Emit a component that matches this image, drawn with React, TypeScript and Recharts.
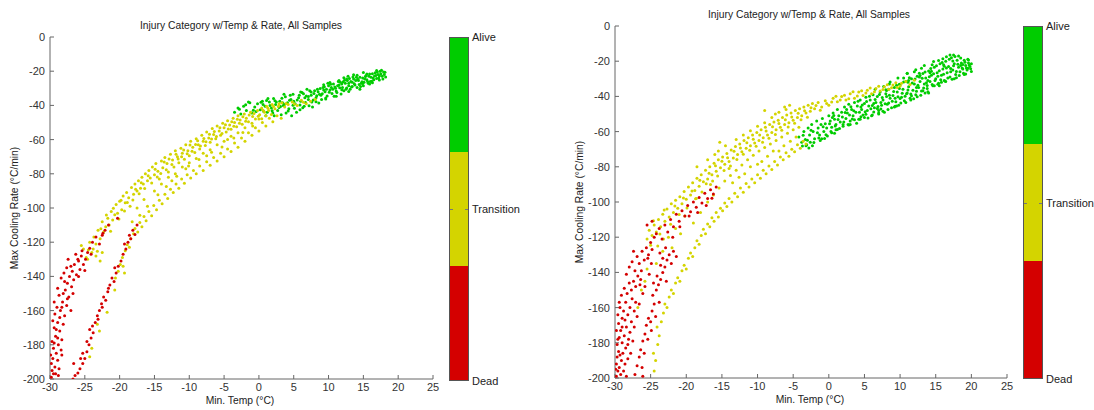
import React from 'react';
import { ScatterChart, Scatter, XAxis, YAxis } from 'recharts';

// Min. temp (°C) / max cooling rate (°C/min) pairs per injury category

const leftAlive: [number, number][] = [
  [-3.5,-44],[-3,-41.5],[-2.6,-45],[-2.2,-40.5],[-1.8,-43],[-1.3,-38.5],[-1,-44.5],[-0.6,-41],[-0.2,-39],[0.2,-42.5],
  [0.5,-37.5],[0.9,-40.5],[1.2,-44],[1.5,-38],[1.8,-41.5],[2.1,-36],[2.4,-39.5],[2.7,-43],[3,-37.5],[3.2,-45.5],
  [3.5,-40],[3.8,-35],[4.1,-38.5],[4.3,-42],[4.6,-36.5],[4.9,-33.5],[5.2,-39],[5.4,-44],[5.7,-35.5],[6,-37.5],
  [6.2,-32.5],[6.5,-40.5],[6.8,-34.5],[7.1,-36.5],[7.3,-31.5],[7.6,-38],[7.9,-33],[8.2,-35.5],[8.4,-30.5],[8.7,-33.5],
  [9,-36.5],[9.2,-29.5],[9.5,-32],[9.8,-34.5],[10,-28.5],[10.2,-31],[10.5,-33],[10.7,-27.5],[11,-30],[11.2,-32.5],
  [11.5,-28],[11.7,-26.5],[12,-29.5],[12.2,-31.5],[12.4,-27],[12.7,-25.5],[12.9,-28.5],[13.1,-30.5],[13.4,-26.5],[13.6,-24.5],
  [13.8,-28],[14.1,-29.5],[14.3,-25.5],[14.5,-23.5],[14.7,-27],[15,-28.5],[15.2,-24.5],[15.4,-22.5],[15.6,-26],[15.9,-27.5],
  [16.1,-23.5],[16.3,-21.5],[16.5,-25],[16.8,-22.5],[17,-20.5],[17.2,-24],[17.5,-21.5],[17.7,-23],[17.9,-20.5],[18,-22],
  [8.5,-32],[9.3,-31],[10.4,-29.5],[11.3,-28.5],[11.9,-27.5],[12.6,-29.8],[13.2,-26],[13.9,-25.5],[14.4,-27.8],[14.9,-24],
  [15.5,-25],[15.8,-23],[16.4,-24],[16.6,-22.8],[17.1,-22],[17.4,-20],[16,-26],[15.1,-26.5],[14,-23.5],[13,-24.3],
  [12.3,-25.3],[11.4,-26],[10.6,-30.5],[9.7,-30.5],[8.9,-34],[8,-31.5],[7.5,-34],[6.6,-35.5],[5.8,-34],[5,-37.5],
  [4.4,-37],[3.4,-38.5],[2.5,-38],[1.6,-40],[0.6,-39.5],[2,-44.5],[3.9,-44.5],[5.9,-42.5],[7.7,-41],[1,-46],
  [4.7,-46],[-0.4,-43.5],[6.9,-30.5],[9.9,-27],[12.8,-23],[3.6,-33.5],[1.3,-36],[-1.5,-38],
  [-2.8,-42.3],[-1.9,-39.6],[-0.8,-42.8],[0.3,-38.2],[0.7,-43.6],[1.1,-37.1],[1.9,-43.1],[2.3,-37.3],[2.9,-41.2],[3.3,-35.8],
  [3.7,-39.4],[4.2,-43.3],[4.5,-34.1],[5.1,-41.6],[5.5,-36.8],[5.9,-39.8],[6.4,-33.2],[6.7,-38.3],[7.2,-40.2],[7.5,-32.1],
  [7.8,-36.9],[8.3,-34.3],[8.6,-38.6],[9.1,-33.2],[9.4,-29.1],[9.6,-36.2],[10.1,-32.3],[10.3,-27.6],[10.8,-34.6],[10.9,-29.3],
  [11.1,-31.6],[11.6,-29.7],[11.8,-33.4],[12.1,-26.1],[12.5,-30.6],[12.9,-27.1],[13.3,-29.2],[13.5,-23.4],[13.7,-27.3],[14.2,-24.7],
  [14.6,-29],[14.8,-26.1],[15.3,-23.1],[15.7,-27.1],[15.9,-21.6],[16.2,-25.9],[16.7,-20.9],[16.9,-24.3],[17.3,-22.6],[17.6,-19.4],
  [17.8,-24.6],[18.1,-20.6],[18.2,-23.4],[16.9,-19.6],[15.5,-21.6],[14.1,-22.3],[12.6,-24.5],[11.5,-25.4],[10.2,-26.6],[11.9,-30.9],
  [13.4,-28.9],[14.9,-27.2],[16.3,-26.7],[17.3,-25.2],[9.3,-27.9],[8.8,-30.1],[7.1,-34.8],[6,-32.2],[4.9,-39.9],[3.1,-40.6],
  [12.2,-23.8],[13.6,-22.1],[15,-20.8],[14.5,-30.6],[12.9,-31.8],[11.1,-34.6],[9.6,-35.6],[8.2,-37.9],[6.3,-41.4],[2.2,-46.1],
];

const leftTransition: [number, number][] = [
  // upper band
  [-25.2,-124],[-24.8,-129],[-24.3,-120],[-24,-126],[-23.7,-117],[-23.4,-121],[-23.1,-113],[-22.8,-118],[-22.5,-108],[-22.3,-114],
  [-22,-111],[-21.7,-106],[-21.5,-110],[-21.2,-102],[-21,-107],[-20.7,-104],[-20.5,-98],[-20.3,-103],[-20,-96],[-19.7,-101],
  [-19.5,-93],[-19.2,-97],[-19,-91],[-18.7,-94],[-18.5,-99],[-18.3,-88],[-18,-92],[-17.8,-86],[-17.5,-90],[-17.3,-84],
  [-17,-88.5],[-16.8,-82],[-16.6,-86],[-16.3,-80],[-16,-84],[-15.8,-78],[-15.6,-82.5],[-15.3,-76],[-15,-80.5],[-14.8,-74],
  [-14.5,-78.5],[-14.3,-83],[-14,-72.5],[-13.8,-76.5],[-13.5,-70.5],[-13.2,-74],[-13,-79],[-12.7,-68.5],[-12.4,-72],[-12.2,-76],
  [-12,-66.5],[-11.7,-70],[-11.5,-73.5],[-11.2,-65],[-11,-68],[-10.7,-71.5],[-10.5,-63],[-10.2,-66.5],[-10,-69.5],[-9.8,-61],
  [-9.5,-64.5],[-9.2,-67.5],[-9,-59.5],[-8.7,-63],[-8.5,-65.5],[-8.2,-57.5],[-8,-61],[-7.7,-63.5],[-7.5,-55.5],[-7.2,-59],
  [-7,-61.5],[-6.7,-53.5],[-6.5,-57],[-6.2,-59.5],[-6,-52],[-5.7,-55],[-5.5,-57.5],[-5.2,-50.5],[-5,-53],[-4.7,-55.5],
  [-4.5,-49],[-4.2,-51.5],[-4,-54],[-3.7,-47.5],[-3.5,-50],[-3.2,-52.5],[-3,-46],[-2.7,-48.5],[-2.4,-51],[-2.1,-45],
  [-1.8,-47.5],[-1.5,-49.5],[-1.2,-44],[-0.9,-46.5],[-0.5,-48],[-0.2,-43],[0.1,-45.5],[0.4,-41.5],[0.8,-44],[1.1,-40.5],
  [1.4,-43],[1.9,-39.5],[2.3,-42],[2.8,-40.5],[3.3,-38.5],[3.7,-41],[4.2,-39.5],[4.8,-38],[5.5,-40],[6.1,-37],
  [6.8,-39],[7.4,-37.5],[8.1,-36.5],
  [-24.5,-124.5],[-23.2,-125.3],[-22.7,-112.2],[-21.9,-104.1],[-21.3,-113.6],[-20.9,-100.2],[-20.1,-106.4],[-19.8,-95.5],[-19.3,-101.7],[-18.9,-96.8],
  [-18.1,-95.3],[-17.7,-89.1],[-17.2,-91.7],[-16.9,-85.3],[-16.4,-88.6],[-15.9,-81.2],[-15.4,-85.4],[-14.9,-77.3],[-14.6,-81.8],[-14.1,-79.8],
  [-13.6,-73.1],[-13.3,-77.6],[-12.9,-71.3],[-12.5,-74.6],[-11.9,-68.6],[-11.6,-71.3],[-11.1,-70.1],[-10.8,-66.1],[-10.3,-68.3],[-9.9,-63.2],
  [-9.6,-66.8],[-9.1,-62.8],[-8.8,-60.6],[-8.4,-63.8],[-7.9,-59.4],[-7.6,-61.3],[-7.1,-56.8],[-6.8,-59.7],[-6.4,-55.3],[-6.1,-58.2],
  [-5.6,-53.1],[-5.3,-56.4],[-4.8,-51.3],[-4.4,-53.8],[-3.9,-49.6],[-3.6,-52.2],[-3.1,-48.1],[-2.8,-50.4],[-2.3,-46.7],[-1.9,-49.3],
  [-1.4,-45.6],[-0.7,-44.8],[-0.1,-46.4],[0.6,-42.9],[1.3,-41.6],[2.1,-40.7],[2.9,-39.1],[3.9,-38.9],[5.1,-39.2],[6.4,-38.1],
  // lower band
  [-20.6,-141],[-20.2,-137],[-19.9,-133],[-19.6,-129],[-19.2,-125],[-18.9,-121.5],[-18.6,-123],[-18.4,-118],[-18,-115],[-17.8,-112],
  [-17.4,-114],[-17.1,-108.5],[-16.8,-111],[-16.5,-105],[-16.2,-107.5],[-15.8,-102],[-15.4,-104.5],[-15.1,-98.5],[-14.7,-101],[-14.3,-95.5],
  [-13.9,-97.5],[-13.5,-92],[-13.1,-94.5],[-12.7,-89],[-12.3,-91],[-11.9,-86],[-11.5,-88.5],[-11.1,-83],[-10.7,-85.5],[-10.3,-80.5],
  [-9.8,-82.5],[-9.4,-78],[-9,-80],[-8.5,-75.5],[-8,-78],[-7.5,-73],[-7,-75],[-6.5,-70.5],[-6,-72.5],[-5.5,-68],
  [-5,-70],[-4.5,-65.5],[-4,-67],[-3.5,-62],[-3,-64.5],[-2.5,-59],[-2,-61],[-1.5,-56],[-1,-57.5],[-0.5,-53],
  [0,-55],[0.5,-50],[1,-52],[1.5,-47.5],[2,-49.5],[2.6,-46],[3.2,-47.5],
  // between bands
  [-17.5,-100],[-16.5,-95],[-15,-90],[-14,-86],[-13,-82],[-12,-80],[-11,-76],[-10,-73.5],[-9,-71],[-8,-68],
  [-7,-66],[-6,-63],[-5,-61],[-4,-58],[-3,-56],[-2,-53],[-1,-50.5],[0,-48],[1,-46],[-12.5,-84],
  [-10.5,-77],[-7.5,-69.5],[-4.5,-60],
  [-16,-99],[-14.5,-92.2],[-13.3,-87.4],[-11.8,-81.5],[-10.1,-75.4],[-8.6,-71.6],[-6.8,-67.4],[-5.3,-64.4],[-3.6,-59.1],[-2.3,-55.8],
  [-0.9,-52.1],[0.4,-47.8],[1.8,-45.3],[-18.2,-108],[-17.1,-104.2],
  // among the dead
  [-23.4,-128],[-22.8,-131],[-22.5,-126],[-23.8,-124],[-19.5,-134],[-19.3,-138],[-20.7,-148],[-21.8,-161],[-23.2,-168],[-22.9,-172],
  [-24.3,-187],[-24,-182],[-25.5,-122],[-24.6,-130],
];

const leftDead: [number, number][] = [
  [-29.8,-199],[-29.7,-195],[-29.8,-191],[-29.5,-197],[-29.6,-188],[-29.3,-193],[-28.8,-198],[-28.9,-189],[-29.1,-185],[-28.7,-194],
  [-29.5,-182],[-29.7,-178],[-29.2,-175],[-29.4,-170],[-28.8,-180],[-28.6,-172],[-28.9,-167],[-28.3,-177],[-28.1,-168],[-29.6,-166],
  [-28.4,-183],[-29.3,-162],[-29,-158],[-29.4,-155],[-28.7,-151],[-28.5,-160],[-28.2,-155],[-27.9,-163],[-27.8,-148],[-27.6,-157],
  [-27.3,-152],[-27,-160],[-26.9,-146],[-28.9,-147],[-27.5,-144],[-28.1,-150],[-28.4,-141],[-28,-138],[-27.6,-135],[-27.2,-140],
  [-26.8,-137],[-26.5,-133],[-26.2,-139],[-26,-130],[-25.7,-136],[-25.5,-128],[-25.2,-133],[-24.9,-130],[-24.6,-126],[-26.6,-142],
  [-27.4,-130],[-25.9,-140],[-25,-136.5],[-24.3,-123.5],[-23.9,-120],[-23.4,-117],[-22.9,-121],[-22.5,-116],[-22.1,-113],[-21.6,-110],
  [-24.1,-127],[-20.3,-106],[-22.4,-114.8],
  [-29.9,-186],[-29.4,-179],[-29.1,-171],[-28.6,-164],[-28.3,-158],[-27.5,-153],[-26.7,-150],[-27.9,-143],[-27,-134],[-26.3,-127],
  [-25.4,-125],[-25.9,-131],[-28.3,-186],[-28.9,-176],[-29.2,-197],
  // second band
  [-26.7,-200],[-26.4,-198],[-26,-196.5],[-25.7,-194],[-25.3,-191],[-25,-188],[-25.3,-185],[-24.7,-184],[-24.4,-180],[-24.1,-176],
  [-24.3,-171],[-23.8,-173],[-23.5,-167],[-23.2,-163],[-22.9,-160],[-22.6,-156],[-22.3,-152],[-22,-154],[-21.7,-149],[-21.4,-145],
  [-21.1,-141],[-20.8,-143],[-20.5,-138],[-20.2,-134],[-19.8,-131],[-19.5,-127],[-19.1,-124],[-18.8,-120],[-18.4,-118],[-18.1,-113],
  [-17.8,-115.5],[-17.5,-110],
  [-26.6,-191],[-25.6,-188],[-24.7,-178],[-23.9,-169],[-22.5,-158],[-21.6,-147],[-20.7,-135],[-19.3,-121],[-18.6,-116],[-23.1,-165],
];

const rightAlive: [number, number][] = [
  [-4.2,-63],[-3.8,-66],[-3.5,-60],[-3.3,-64.5],[-3.1,-67.5],[-2.9,-58],[-2.7,-62],[-2.6,-66],[-2.4,-56],[-2.2,-60],
  [-2,-64],[-1.7,-54],[-1.5,-58],[-1.3,-62],[-1.1,-56],[-0.9,-52.5],[-0.7,-60],[-0.5,-55.5],[-0.3,-58],[0,-51],
  [0.2,-54],[0.4,-57.5],[0.6,-49.5],[0.8,-53],[1,-56],[1.2,-47.5],[1.4,-51],[1.6,-54.5],[1.8,-49],[2,-57],
  [2.2,-46],[2.4,-52.5],[2.6,-49.5],[2.8,-44.5],[3,-54],[3.2,-47.5],[3.4,-51],[3.6,-43.5],[3.8,-49],[4,-45.5],
  [4.2,-53],[4.4,-42],[4.6,-47.5],[4.8,-50.5],[5,-44],[5.2,-40.5],[5.4,-48],[5.6,-45.5],[5.8,-42],[6,-51],
  [6.2,-39],[6.4,-46.5],[6.6,-43.5],[6.8,-40],[7,-48],[7.2,-37.5],[7.4,-45],[7.6,-42],[7.8,-49],[8,-38.5],
  [8.2,-44.5],[8.4,-36],[8.6,-41],[8.8,-46.5],[9,-39.5],[9.2,-35],[9.4,-43],[9.6,-37.5],[9.8,-45],[10,-33.5],
  [10.2,-40.5],[10.4,-36],[10.6,-42.5],[10.8,-31.5],[11,-38],[11.2,-34.5],[11.4,-41],[11.6,-30],[11.8,-36.5],[12,-33],
  [12.2,-39],[12.4,-28.5],[12.6,-35],[12.8,-31.5],[13,-37],[13.2,-27],[13.4,-33],[13.6,-29.5],[13.8,-35.5],[14,-25.5],
  [14.2,-31.5],[14.4,-28],[14.6,-34],[14.8,-23.5],[15,-30],[15.2,-26.5],[15.4,-32.5],[15.6,-21.5],[15.8,-28],[16,-24.5],
  [16.2,-31],[16.4,-20],[16.6,-26.5],[16.8,-23],[17,-29],[17.2,-18],[17.4,-25],[17.6,-21.5],[17.8,-27.5],[18,-19.5],
  [18.2,-23.5],[18.4,-26],[18.6,-21],[18.8,-24.5],[19,-19.5],[19.2,-22.5],[19.4,-25],[19.6,-21],[19.8,-23],
  [11,-27],[12,-26],[13,-24],[14.5,-22],[16.5,-17.5],[17.5,-16.5],[15.5,-34],[13.5,-38],[11.5,-42],[9.5,-45.5],
  [7,-49.5],[5,-52],[3,-56],[10.5,-29.5],[8.5,-33],[6.5,-36],[1,-59],[-1,-64],[-2.3,-68],
  [2.9,-50.5],[4.3,-49],[5.9,-47],[7.3,-43.5],[9.3,-41],[10.9,-38.5],[12.3,-35],[13.9,-31],[15.3,-28.5],[17.1,-26],
  [18.5,-22.5],[19.5,-24],[16.1,-22],[14.2,-26.5],[12.7,-29],[11.1,-32],[9.9,-35.5],[8.1,-40],[6.3,-44],[4.5,-46],
  [2.5,-47.5],[0.5,-52],
  [-3.6,-62.1],[-3,-64.9],[-2.5,-59.3],[-2.1,-66.2],[-1.6,-60.7],[-1.2,-65.1],[-0.8,-57.2],[-0.4,-61.8],[0.1,-55.6],[0.3,-59.9],
  [0.7,-50.8],[0.9,-56.8],[1.3,-53.1],[1.5,-58.3],[1.9,-51.7],[2.1,-54.6],[2.3,-49.1],[2.7,-55.9],[3.1,-45.9],[3.3,-52.8],
  [3.5,-48.2],[3.9,-55.2],[4.1,-42.8],[4.5,-51.6],[4.7,-44.9],[5.1,-48.7],[5.3,-42.9],[5.5,-52.3],[5.7,-39.9],[6.1,-45.2],
  [6.3,-48.9],[6.5,-41.7],[6.9,-45.8],[7.1,-38.9],[7.3,-47.1],[7.5,-40.6],[7.9,-44.2],[8.1,-36.7],[8.3,-47.5],[8.5,-39.3],
  [8.9,-42.8],[9.1,-37.2],[9.3,-45.6],[9.7,-40.2],[9.9,-33.1],[10.1,-43.8],[10.3,-38.2],[10.5,-31.8],[10.7,-39.9],[11.1,-36.3],
  [11.3,-29.4],[11.5,-38.7],[11.7,-32.4],[11.9,-41.3],[12.1,-30.1],[12.3,-37.1],[12.5,-33.7],[12.7,-26.9],[12.9,-39.4],[13.1,-29.7],
  [13.3,-35.2],[13.5,-26.2],[13.7,-32.2],[13.9,-37.3],[14.1,-28.9],[14.3,-24.1],[14.5,-33.3],[14.7,-27.1],[14.9,-30.9],[15.1,-22.6],
  [15.3,-33.1],[15.5,-25.4],[15.7,-30.6],[15.9,-20.7],[16.1,-27.4],[16.3,-31.2],[16.5,-23.8],[16.7,-29.6],[16.9,-18.9],[17.1,-24.2],
  [17.3,-30.3],[17.5,-22.6],[17.7,-17.3],[17.9,-25.9],[18.1,-21.7],[18.3,-28.1],[18.5,-18.2],[18.7,-23.9],[18.9,-26.8],[19.1,-20.6],
  [19.3,-23.9],[19.5,-18.9],[19.7,-22.1],[19.9,-24.3],[20,-21.5],[19.2,-27.3],[17.9,-29.4],[16.4,-31.6],[14.8,-34],[13.2,-36.8],
  [11.6,-39.7],[10,-41.2],[8.4,-43.8],[6.8,-46.9],[5.2,-50.1],[3.6,-53.2],[2,-55.9],[0.4,-60.6],[-1.4,-63.6],[-3.2,-68],
  [17,-16.5],[16,-18.6],[14.7,-20.1],[13.4,-22.4],[12.2,-24.9],[11,-26.8],[9.7,-29.6],[8.6,-31.8],[7.7,-34.4],[15.4,-19.6],
  [18.2,-17.1],[19.6,-19.3],[18.8,-21.9],[17.4,-19.9],[16.2,-22.8],[14.4,-25.7],[12.8,-28.1],[11.2,-30.9],[9.5,-33.7],[8,-36.2],
  [13.8,-33.8],[12.4,-40.2],[10.8,-43.5],[9.2,-46],[7.6,-48.5],[6.1,-50.5],[4.4,-53],[2.8,-56.2],[1.2,-58.8],[-0.2,-62.5],
  [-3.7,-68.2],[-2.8,-69.3],[-0.6,-63.9],[0.8,-61],[15.8,-32],[17.6,-30],[19,-27.5],[20,-25.9],[14,-38],[7,-50],
];

const rightTransition: [number, number][] = [
  // upper band
  [-25.5,-121],[-25.2,-116],[-24.8,-119],[-24.5,-113],[-24.2,-117],[-23.9,-110],[-23.6,-114],[-23.3,-107],[-23,-111],[-22.7,-104],
  [-22.4,-108.5],[-22.1,-101],[-21.8,-106],[-21.5,-99],[-21.2,-103.5],[-20.9,-97],[-20.6,-101],[-20.3,-94],[-20,-98.5],[-19.7,-91.5],
  [-19.4,-96],[-19.1,-89],[-18.8,-93.5],[-18.5,-86.5],[-18.2,-91],[-17.9,-84.5],[-17.6,-88.5],[-17.3,-82],[-17,-87],[-16.7,-80],
  [-16.4,-84.5],[-16.1,-78],[-15.8,-82.5],[-15.5,-76],[-15.2,-80.5],[-14.9,-74.5],[-14.6,-78.5],[-14.3,-72.5],[-14,-77],[-13.7,-70.5],
  [-13.4,-75],[-13.1,-68.5],[-12.8,-73],[-12.5,-67],[-12.2,-71.5],[-11.9,-65],[-11.6,-69.5],[-11.3,-63.5],[-11,-68],[-10.7,-62],
  [-10.4,-66.5],[-10.1,-60.5],[-9.8,-65],[-9.5,-59],[-9.2,-63.5],[-8.9,-57.5],[-8.6,-62],[-8.3,-56],[-8,-60.5],[-7.7,-54.5],
  [-7.4,-59],[-7.1,-53.5],[-6.8,-57.5],[-6.5,-52],[-6.2,-56],[-5.9,-50.5],[-5.6,-55],[-5.3,-49.5],[-5,-53.5],[-4.7,-48],
  [-4.4,-52],[-4.1,-47],[-3.8,-51],[-3.5,-46],[-3.2,-49.5],[-2.9,-45],[-2.6,-48.5],[-2.3,-44],[-2,-47],[-1.5,-43.5],
  [-1,-46],[-0.5,-42.5],[0,-45],[0.6,-41],[1.2,-43],[1.8,-40],[2.4,-42],[3,-38.5],[3.6,-41],[4.2,-37.5],
  [4.8,-39.5],[5.4,-36.5],[6,-38.5],[6.6,-35.5],[7.2,-37],[7.8,-34.5],[8.4,-36],[9,-33.5],[9.6,-35],[10.2,-32.5],
  [-25,-124.6],[-24.6,-110.7],[-23.7,-118.2],[-23.1,-104.6],[-22.2,-112.7],[-21.6,-102.3],[-21,-107.1],[-20.4,-97.7],[-19.9,-103.4],[-19.2,-93.8],
  [-18.7,-98.2],[-18.1,-87.6],[-17.8,-94.3],[-17.2,-89.6],[-16.8,-83.7],[-16.3,-88.1],[-15.9,-79.4],[-15.6,-85.2],[-15,-76.8],[-14.7,-82.1],
  [-14.2,-74.9],[-13.8,-79.6],[-13.3,-71.1],[-12.9,-75.8],[-12.4,-69.3],[-12,-72.8],[-11.5,-66.4],[-11.1,-70.6],[-10.6,-64.4],[-10.2,-68.3],
  [-9.7,-61.9],[-9.3,-66.1],[-8.8,-59.6],[-8.4,-63.8],[-7.9,-57.3],[-7.5,-61.6],[-7,-55.4],[-6.6,-59.3],[-6.1,-53.3],[-5.7,-57.4],
  [-5.2,-51.7],[-4.8,-55.2],[-4.3,-49.6],[-3.9,-53.3],[-3.4,-48.1],[-3,-51.8],[-2.5,-46.4],[-1.8,-45.1],[-1.2,-47.9],[-0.3,-44.1],
  [0.4,-43.2],[1,-39.9],[1.6,-42.1],[2.2,-39.3],[2.8,-41.3],[3.4,-37.4],[4,-39.8],[4.6,-36.8],[5.2,-38.1],[5.8,-35.2],
  [6.4,-37.4],[7,-34.3],[7.6,-36.1],[8.2,-33.4],[8.8,-35.1],[9.4,-32.2],[10,-34.1],[10.8,-31.6],[11.4,-33.3],[12,-30.8],
  // above the upper band
  [-17,-76],[-16,-73],[-14.5,-68],[-12,-62],[-10,-57],[-8,-52],[-6,-47.5],[-5.5,-45],[-7,-49],[-9,-55],
  [-11,-59.5],[-13,-64.5],[-15.5,-71],[-18.5,-80],[-15.3,-66],[-9,-48],[-6.2,-46],[-7.5,-50],
  // middle and lower bands
  [-24.5,-196],[-24.3,-190],[-24.6,-186],[-24,-181],[-23.8,-176],[-24.1,-171],[-23.5,-168],[-23.2,-163],[-23,-158],[-22.7,-160],
  [-22.4,-154],[-22.1,-150],[-21.8,-152],[-21.5,-146],[-21.2,-143],[-20.9,-145],[-20.6,-139],[-20.3,-136],[-20,-138],[-19.7,-132],
  [-19.4,-129],[-19.1,-131],[-18.8,-126],[-18.5,-122],[-18.2,-124],[-17.9,-119],[-17.6,-115.5],[-17.3,-118],[-17,-112.5],[-16.7,-114],
  [-16.4,-109],[-16.1,-111],[-15.8,-106],[-15.5,-108.5],[-15.2,-103.5],[-14.9,-105],[-14.6,-100.5],[-14.3,-102.5],[-14,-98],[-13.6,-100],
  [-13.2,-95],[-12.8,-97],[-12.4,-92],[-12,-94.5],[-11.6,-89.5],[-11.2,-91.5],[-10.8,-87],[-10.4,-89],[-10,-84.5],[-9.6,-86.5],
  [-9.2,-82],[-8.8,-84],[-8.4,-79.5],[-8,-81.5],[-7.6,-77],[-7.2,-79],[-6.8,-74.5],[-6.4,-76],[-6,-72],[-5.6,-74],
  [-5.2,-70],[-4.8,-71.5],[-4.4,-67.5],[-4,-69.5],[-3.6,-65.5],[-3.2,-67],
  // between bands
  [-19,-112],[-18,-106],[-17,-100],[-16.2,-96],[-15.4,-92],[-14.6,-88],[-13.8,-85],[-13,-82],[-12.2,-79],[-11.4,-76],
  [-10.6,-73.5],[-9.8,-71],[-9,-69],[-8.2,-67],[-7.4,-65],[-6.6,-63],[-5.8,-61],[-5,-59],[-4.2,-57.5],[-16.6,-90],
  [-14,-81],[-11.8,-84],[-9.4,-77],[-7,-71],[-18.6,-98],[-20.2,-108],[-21.5,-115],[-22.5,-120],[-23.3,-128],[-24.2,-135],
  [-22,-126],[-20.8,-118],[-13.5,-89],[-12.6,-86],[-11,-80],[-10,-78.5],[-8.6,-74],[-7.8,-71],[-6.3,-68],[-5.4,-65.5],
  [-4.6,-63],
  [-26.3,-150],[-25.8,-145],[-26.8,-160],[-25.5,-138],[-24,-125],[-23.2,-121],
];

const rightDead: [number, number][] = [
  [-29.8,-199],[-29.6,-196],[-29.8,-192],[-29.4,-194],[-29.7,-188],[-29.2,-198],[-29.5,-185],[-29.1,-190],[-28.8,-196],[-28.6,-192],
  [-28.9,-186],[-28.4,-199],[-28.2,-189],[-28.5,-183],[-29.7,-181],[-29.4,-177],[-29.8,-173],[-29.5,-169],[-29.2,-173],[-29,-180],
  [-28.7,-176],[-28.4,-171],[-28.1,-178],[-27.9,-174],[-27.7,-168],[-29.6,-164],[-29.3,-160],[-29,-166],[-28.8,-162],[-28.5,-157],
  [-28.2,-164],[-27.9,-160],[-27.6,-155],[-27.3,-162],[-27.1,-157],[-29.1,-153],[-28.7,-149],[-28.3,-152],[-28,-146],[-27.7,-150],
  [-27.4,-145],[-27.1,-148],[-26.8,-142],[-26.5,-147],[-26.3,-139],[-28.4,-141],[-28,-137],[-27.6,-134],[-27.2,-139],[-26.9,-131],
  [-26.6,-135],[-26.2,-128],[-25.9,-133],[-25.6,-126],[-25.3,-130],[-25,-123],[-24.8,-127],[-24.5,-120],[-27.4,-128],
  [-29.9,-195],[-29.3,-187],[-29.6,-178],[-29,-171],[-29.4,-157],[-28.6,-167],[-28.2,-181],[-27.8,-186],[-27.5,-179],[-27.3,-171],
  [-26.9,-165],[-26.6,-158],[-26.1,-152],[-25.8,-148],[-26.4,-144],[-25.2,-141],[-24.9,-135],[-25.4,-132],[-24.6,-146],[-24.1,-142],
  // second band
  [-27.2,-198],[-26.9,-193],[-26.6,-188],[-26.4,-184],[-26.1,-179],[-25.8,-175],[-25.6,-170],[-25.3,-166],[-25,-168],[-24.8,-162],
  [-24.5,-158],[-24.7,-153],[-24.2,-150],[-23.9,-147],[-23.6,-144],[-23.3,-140],[-23.6,-136],[-23,-137],[-22.7,-133],[-22.4,-130],
  [-22.1,-135],[-21.8,-128],[-26.2,-194],[-25.9,-186],[-25.4,-178],[-24.9,-173],[-24.3,-165],[-23.8,-157],[-22.8,-145],[-21.4,-131],
  [-23.3,-132],[-22.9,-126],[-23.7,-129],[-26.1,-199],
  // stripe inside the transition bands
  [-24.2,-118],[-23.8,-115],[-23.4,-121],[-23,-113],[-22.6,-117],[-22.2,-110],[-21.8,-114],[-21.4,-107],[-21,-111],[-20.6,-105],
  [-20.2,-108],[-19.8,-102],[-19.4,-105.5],[-19,-100],[-18.6,-103],[-18.2,-97.5],[-17.8,-100.5],[-17.4,-95],[-17,-98],[-16.6,-93],
  [-16.2,-95.5],[-15.8,-91.5],[-25.5,-113],[-24.8,-111],[-21.9,-120],[-20.9,-114],[-19.6,-108],[-18.4,-106],[-17.2,-102],[-16.4,-97.8],
];

const xTicks = [-30, -25, -20, -15, -10, -5, 0, 5, 10, 15, 20, 25];
const yTicks = [-200, -180, -160, -140, -120, -100, -80, -60, -40, -20, 0];
const categories = ['Alive', 'Transition', 'Dead'];

const GREEN = '#00cc00';
const YELLOW = '#d4d400';
const RED = '#d40000';
const FONT = '"Liberation Sans", Arial, sans-serif';
const TITLE = 'Injury Category w/Temp & Rate, All Samples';

const toPoints = (rows: [number, number][]) => rows.map(([x, y]) => ({ x, y }));

const dot = (color: string) => (props: any) =>
  <circle cx={props.cx} cy={props.cy} r={1.5} fill={color} />;

const tickStyle = { fill: '#333', fontSize: 11, fontFamily: FONT };

interface PanelProps {
  left: number;
  width: number;
  top: number;
  yAxisWidth: number;
  marginRight: number;
  marginBottom: number;
  alive: [number, number][];
  transition: [number, number][];
  dead: [number, number][];
}

function Panel({ left, width, top, yAxisWidth, marginRight, marginBottom, alive, transition, dead }: PanelProps) {
  return (
    <div style={{ position: 'absolute', left, top: 0 }}>
      <ScatterChart
        width={width}
        height={410}
        margin={{ top, right: marginRight, bottom: marginBottom, left: 10 }}
      >
        <XAxis
          type="number"
          dataKey="x"
          domain={[-30, 25]}
          ticks={xTicks}
          allowDataOverflow
          height={25}
          tickSize={-4}
          tickMargin={8}
          stroke="#666"
          tick={tickStyle}
        />
        <YAxis
          type="number"
          dataKey="y"
          domain={[-200, 0]}
          ticks={yTicks}
          allowDataOverflow
          width={yAxisWidth}
          tickSize={-4}
          tickMargin={9}
          stroke="#666"
          tick={tickStyle}
        />
        <Scatter data={toPoints(alive)} shape={dot(GREEN)} isAnimationActive={false} />
        <Scatter data={toPoints(transition)} shape={dot(YELLOW)} isAnimationActive={false} />
        <Scatter data={toPoints(dead)} shape={dot(RED)} isAnimationActive={false} />
      </ScatterChart>
    </div>
  );
}

function ColorBar({ left, top, height }: { left: number; top: number; height: number }) {
  const colors = [GREEN, YELLOW, RED];
  const labelY = [top, top + height / 2, top + height];
  return (
    <>
      <div
        style={{
          position: 'absolute', left, top, width: 20, height,
          border: '1px solid #555', boxSizing: 'border-box', display: 'flex', flexDirection: 'column',
        }}
      >
        {colors.map((c) => <div key={c} style={{ flex: 1, background: c }} />)}
        <div style={{ position: 'absolute', left: 0, top: height / 2 - 1, width: 3, height: 1, background: '#777' }} />
        <div style={{ position: 'absolute', right: 0, top: height / 2 - 1, width: 3, height: 1, background: '#777' }} />
      </div>
      {categories.map((name, i) => (
        <div
          key={name}
          style={{
            position: 'absolute', left: left + 23, top: labelY[i] - 7, fontSize: 11,
            fontFamily: FONT, color: '#222', lineHeight: '14px', whiteSpace: 'nowrap',
          }}
        >
          {name}
        </div>
      ))}
    </>
  );
}

const textStyle: React.CSSProperties = {
  position: 'absolute', fontSize: 10.3, fontFamily: FONT, color: '#222',
  whiteSpace: 'nowrap', lineHeight: '14px',
};

function Caption({ x, y, text, rotate }: { x: number; y: number; text: string; rotate?: boolean }) {
  return (
    <div
      style={{
        ...textStyle, left: x, top: y,
        transform: `translate(-50%, -50%)${rotate ? ' rotate(-90deg)' : ''}`,
      }}
    >
      {text}
    </div>
  );
}

export default function App() {
  return (
    <div style={{ position: 'absolute', left: 0, top: 0, width: 1094, height: 410, background: '#fff', overflow: 'hidden' }}>
      <Panel
        left={0} width={480} top={37} yAxisWidth={40} marginRight={47} marginBottom={6}
        alive={leftAlive} transition={leftTransition} dead={leftDead}
      />
      <Caption x={241} y={26} text={TITLE} />
      <Caption x={240} y={401} text="Min. Temp (°C)" />
      <Caption x={15} y={208} text="Max Cooling Rate (°C/min)" rotate />
      <ColorBar left={449} top={37} height={344} />

      <Panel
        left={560} width={490} top={26} yAxisWidth={45} marginRight={43} marginBottom={7}
        alive={rightAlive} transition={rightTransition} dead={rightDead}
      />
      <Caption x={809} y={15} text={TITLE} />
      <Caption x={810} y={400} text="Min. Temp (°C)" />
      <Caption x={580} y={202} text="Max Cooling Rate (°C/min)" rotate />
      <ColorBar left={1023} top={26} height={353} />
    </div>
  );
}
